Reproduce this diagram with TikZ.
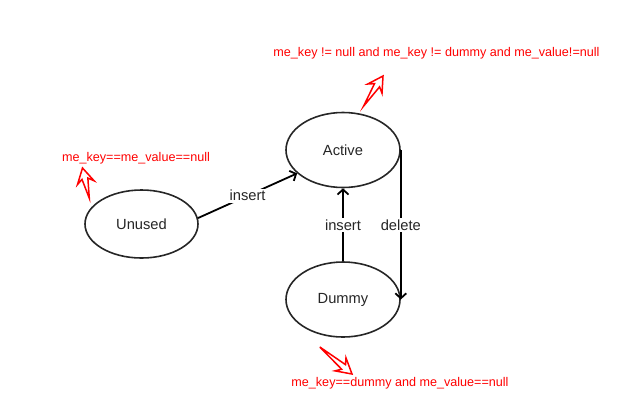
\documentclass[tikz,border=0pt]{standalone}
\usepackage{fontspec}
\setmainfont{Liberation Sans}
\usetikzlibrary{shapes.geometric,arrows.meta}
\tikzset{
  state/.style={ellipse,draw=black!85,line width=1.6bp,inner sep=0pt,
    minimum width=114bp,minimum height=75bp,
    font=\fontsize{14.7bp}{17bp}\selectfont,text=black!85},
  conn/.style={draw=black,line width=1.8bp,-{Straight Barb[length=5bp,width=11bp]}},
  edgelabel/.style={fill=white,inner sep=1.5bp,font=\fontsize{14.7bp}{17bp}\selectfont,text=black!85},
  note/.style={text=red,inner sep=0pt,font=\fontsize{12.6bp}{15bp}\selectfont},
  redarr/.style={draw=red,fill=white,line width=1.5bp,line join=miter}
}
\newcommand{\blockarrow}[4]{% tip x, tip y, angle, length
  \begin{scope}[shift={(#1,#2)},rotate=#3]
    \draw[redarr] (0,0) -- (15,8.5) -- (11,3) -- (#4,0) -- (11,-3) -- (15,-8.5) -- cycle;
  \end{scope}}
\begin{document}
\begin{tikzpicture}[x=1bp,y=-1bp]
\useasboundingbox (0,0) rectangle (627,417);
\node[state] (active) at (343,150) {Active};
\node[state] (dummy) at (343,299.5) {Dummy};
\node[state,minimum width=113bp,minimum height=68bp] (unused) at (141.5,224) {Unused};

\draw[conn] (unused.6) -- node[edgelabel] {insert} (active.207);
\draw[conn] (dummy.north) -- node[edgelabel] {insert} (active.south);
\draw[conn] (active.east) -- node[edgelabel] {delete} (dummy.east);

\node[note] (n1) at (436.5,53) {me\_key != null and me\_key != dummy and me\_value!=null};
\node[note] (n2) at (136,158) {me\_key==me\_value==null};
\node[note] (n3) at (400,383) {me\_key==dummy and me\_value==null};

\blockarrow{383}{76}{-122.8}{36}
\blockarrow{82.5}{168}{-77.3}{31}
\blockarrow{352}{374}{140}{42}
\end{tikzpicture}
\end{document}
